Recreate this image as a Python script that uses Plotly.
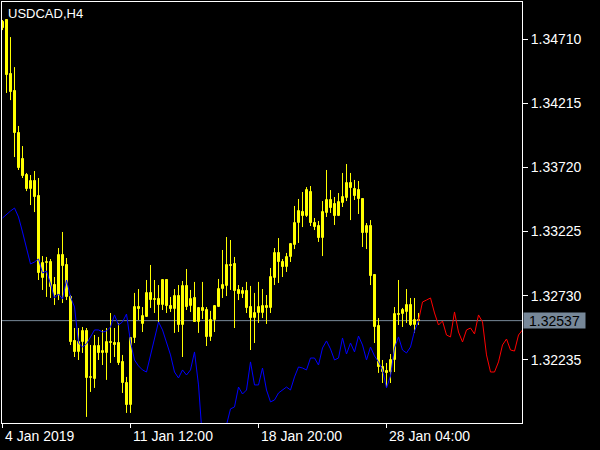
import plotly.graph_objects as go

# ---- data (USDCAD H4 bars) ----
open_ = [1.34845, 1.34860, 1.34442, 1.34311, 1.33987, 1.33786, 1.33662, 1.33554, 1.33616, 1.33500,
         1.32866, 1.32982, 1.32990, 1.32812, 1.32735, 1.33044, 1.32967, 1.32720, 1.32380, 1.32295,
         1.32372, 1.32457, 1.32094, 1.32086, 1.32341, 1.32287, 1.32287, 1.32372, 1.32364, 1.32364,
         1.32218, 1.32055, 1.31885, 1.32403, 1.32642, 1.32511, 1.32565, 1.32751, 1.32696, 1.32704,
         1.32658, 1.32851, 1.32650, 1.32627, 1.32727, 1.32503, 1.32805, 1.32650, 1.32712, 1.32527,
         1.32635, 1.32619, 1.32411, 1.32542, 1.32642, 1.32781, 1.32805, 1.32967, 1.32975, 1.32774,
         1.32743, 1.32766, 1.32642, 1.32557, 1.32596, 1.32596, 1.32650, 1.32635, 1.32866, 1.33060,
         1.32990, 1.32951, 1.33029, 1.33121, 1.33291, 1.33376, 1.33345, 1.33531, 1.33291, 1.33268,
         1.33175, 1.33369, 1.33469, 1.33438, 1.33345, 1.33446, 1.33484, 1.33600, 1.33554, 1.33546,
         1.33477, 1.33214, 1.33268, 1.32890, 1.32496, 1.32179, 1.32148, 1.32140, 1.32233, 1.32588,
         1.32588, 1.32604, 1.32658, 1.32503, 1.32542]
high = [1.34860, 1.34867, 1.34728, 1.34496, 1.34041, 1.33886, 1.33678, 1.33662, 1.33693, 1.33639,
        1.33036, 1.33029, 1.33013, 1.32874, 1.33098, 1.33222, 1.33021, 1.32735, 1.32480, 1.32480,
        1.32488, 1.32480, 1.32349, 1.32426, 1.32411, 1.32465, 1.32480, 1.32596, 1.32480, 1.32519,
        1.32272, 1.32102, 1.32411, 1.32751, 1.32781, 1.32642, 1.32851, 1.32967, 1.32851, 1.32812,
        1.32851, 1.32851, 1.32720, 1.32781, 1.32812, 1.32843, 1.32936, 1.32774, 1.32836, 1.32642,
        1.32836, 1.32642, 1.32612, 1.32650, 1.32859, 1.33083, 1.33183, 1.33160, 1.33029, 1.32812,
        1.32797, 1.32836, 1.32805, 1.32751, 1.32836, 1.32781, 1.32735, 1.32944, 1.33098, 1.33175,
        1.33013, 1.33060, 1.33137, 1.33423, 1.33477, 1.33531, 1.33569, 1.33577, 1.33330, 1.33307,
        1.33461, 1.33701, 1.33546, 1.33492, 1.33523, 1.33678, 1.33747, 1.33678, 1.33624, 1.33616,
        1.33477, 1.33291, 1.33314, 1.32897, 1.32557, 1.32233, 1.32210, 1.32279, 1.32642, 1.32851,
        1.32635, 1.32781, 1.32712, 1.32712, 1.32596]
low = [1.34782, 1.34296, 1.34241, 1.33801, 1.33701, 1.33639, 1.33538, 1.33430, 1.33376, 1.32851,
       1.32774, 1.32720, 1.32712, 1.32658, 1.32696, 1.32673, 1.32696, 1.32349, 1.32256, 1.32233,
       1.32287, 1.31793, 1.31986, 1.32017, 1.32233, 1.32194, 1.32079, 1.32210, 1.32256, 1.32194,
       1.31978, 1.31824, 1.31824, 1.32364, 1.32542, 1.32449, 1.32565, 1.32635, 1.32596, 1.32519,
       1.32619, 1.32596, 1.32604, 1.32442, 1.32449, 1.32256, 1.32619, 1.32604, 1.32527, 1.32442,
       1.32550, 1.32341, 1.32380, 1.32449, 1.32642, 1.32712, 1.32727, 1.32774, 1.32480, 1.32696,
       1.32712, 1.32596, 1.32310, 1.32364, 1.32519, 1.32557, 1.32511, 1.32596, 1.32812, 1.32828,
       1.32874, 1.32913, 1.32990, 1.33090, 1.33137, 1.33260, 1.33338, 1.33268, 1.33237, 1.33145,
       1.33036, 1.33338, 1.33369, 1.33276, 1.33345, 1.33415, 1.33461, 1.33314, 1.33469, 1.33361,
       1.33106, 1.33090, 1.32812, 1.32364, 1.32133, 1.32055, 1.32024, 1.32055, 1.32140, 1.32503,
       1.32488, 1.32519, 1.32496, 1.32442, 1.32503]
close = [1.34798, 1.34434, 1.34303, 1.33987, 1.33716, 1.33654, 1.33554, 1.33616, 1.33492, 1.32905,
         1.32982, 1.32990, 1.32797, 1.32735, 1.33044, 1.32959, 1.32720, 1.32372, 1.32295, 1.32372,
         1.32457, 1.32094, 1.32102, 1.32341, 1.32287, 1.32302, 1.32372, 1.32364, 1.32349, 1.32210,
         1.32055, 1.31885, 1.32403, 1.32642, 1.32627, 1.32573, 1.32751, 1.32696, 1.32704, 1.32658,
         1.32851, 1.32650, 1.32627, 1.32727, 1.32503, 1.32805, 1.32642, 1.32704, 1.32527, 1.32635,
         1.32612, 1.32411, 1.32542, 1.32650, 1.32781, 1.32812, 1.32967, 1.32959, 1.32766, 1.32743,
         1.32766, 1.32635, 1.32557, 1.32596, 1.32642, 1.32650, 1.32635, 1.32874, 1.33060, 1.32990,
         1.32951, 1.33029, 1.33129, 1.33291, 1.33384, 1.33345, 1.33546, 1.33291, 1.33260, 1.33175,
         1.33376, 1.33469, 1.33407, 1.33345, 1.33454, 1.33492, 1.33600, 1.33562, 1.33500, 1.33477,
         1.33214, 1.33268, 1.32882, 1.32488, 1.32179, 1.32140, 1.32133, 1.32233, 1.32588, 1.32581,
         1.32619, 1.32658, 1.32503, 1.32542, 1.32537]

# overlay line (blue), one value per bar
blue_line = [1.33330, 1.33361, 1.33384, 1.33407, 1.33338, 1.33222, 1.33098, 1.32975, 1.32990, 1.33013,
             1.32905, 1.32920, 1.32820, 1.32712, 1.32743, 1.32704, 1.32851, 1.32720, 1.32642, 1.32364,
             1.32333, 1.32357, 1.32411, 1.32465, 1.32465, 1.32449, 1.32457, 1.32488, 1.32581, 1.32503,
             1.32527, 1.32588, 1.32372, 1.32233, 1.32187, 1.32156, 1.32140, 1.32272, 1.32388, 1.32527,
             1.32465, 1.32364, 1.32272, 1.32140, 1.32094, 1.32156, 1.32117, 1.32156, 1.32295, 1.32040,
             1.31615, 1.31538, 1.31499, 1.31538, 1.31576, 1.31654, 1.31731, 1.31855, 1.31870, 1.32024,
             1.31970, 1.32001, 1.32218, 1.32040, 1.32040, 1.32171, 1.32001, 1.31909, 1.31924, 1.31978,
             1.32001, 1.32024, 1.32001, 1.32102, 1.32179, 1.32171, 1.32156, 1.32248, 1.32248, 1.32194,
             1.32326, 1.32380, 1.32318, 1.32233, 1.32248, 1.32403, 1.32279, 1.32364, 1.32295, 1.32418,
             1.32349, 1.32233, 1.32333, 1.32264, 1.32218, 1.32156, 1.32017, 1.32109, 1.32326, 1.32411,
             1.32310, 1.32287, 1.32333, 1.32457, 1.32534]

# forecast line (red), from the last bar onward
red_start = 104
red_line = [1.32537, 1.32681, 1.32696, 1.32712, 1.32596, 1.32503, 1.32534, 1.32426, 1.32411, 1.32604,
            1.32449, 1.32372, 1.32465, 1.32480, 1.32434, 1.32581, 1.32527, 1.32272, 1.32140, 1.32140,
            1.32218, 1.32349, 1.32395, 1.32310, 1.32302, 1.32426, 1.32465]

x_tick_bars = [0, 32, 64, 96]
x_tick_labels = ["4 Jan 2019", "11 Jan 12:00", "18 Jan 20:00", "28 Jan 04:00"]
price_ticks = [1.34710, 1.34215, 1.33720, 1.33225, 1.32730, 1.32235]
last_price = 1.32537
symbol_label = "USDCAD,H4"

YELLOW = "#FFFF00"
FONT = "Liberation Sans"

n = len(open_)
bars = list(range(n))

# wicks
wx, wy = [], []
for i in bars:
    wx += [i, i, None]
    wy += [low[i], high[i], None]

bull = [i for i in bars if close[i] >= open_[i]]
bear = [i for i in bars if close[i] < open_[i]]

fig = go.Figure()
fig.add_trace(go.Scatter(x=wx, y=wy, mode="lines", line=dict(color=YELLOW, width=1),
                         hoverinfo="skip", showlegend=False))
fig.add_trace(go.Bar(x=bull, y=[close[i] - open_[i] for i in bull], base=[open_[i] for i in bull],
                     width=0.5, marker=dict(color="#000000", line=dict(color=YELLOW, width=1)),
                     showlegend=False))
fig.add_trace(go.Bar(x=bear, y=[open_[i] - close[i] for i in bear], base=[close[i] for i in bear],
                     width=0.5, marker=dict(color="#FFFFFF", line=dict(color=YELLOW, width=1)),
                     showlegend=False))
fig.add_trace(go.Scatter(x=bars, y=blue_line, mode="lines", line=dict(color="#0000FF", width=1),
                         showlegend=False))
fig.add_trace(go.Scatter(x=list(range(red_start, red_start + len(red_line))), y=red_line, mode="lines",
                         line=dict(color="#FF0000", width=1), showlegend=False))

fig.add_shape(type="line", xref="paper", x0=0, x1=1, yref="y", y0=last_price, y1=last_price,
              line=dict(color="#778899", width=1), layer="below")

annotations = [
    dict(text=symbol_label, xref="paper", yref="paper", x=0, y=1, xanchor="left", yanchor="top",
         xshift=4, yshift=-2, showarrow=False, font=dict(family=FONT, size=13, color="white")),
    dict(text=f"{last_price:.5f}", xref="paper", yref="y", x=1, y=last_price, xanchor="left",
         yanchor="middle", xshift=1, showarrow=False, bgcolor="#778899", width=61, height=15,
         borderpad=0, font=dict(family=FONT, size=14, color="black")),
]
for b, t in zip(x_tick_bars, x_tick_labels):
    annotations.append(dict(text=t, xref="x", yref="paper", x=b, y=0, xanchor="left", yanchor="top",
                            yshift=-3, showarrow=False, font=dict(family=FONT, size=14, color="white")))

fig.update_layout(
    width=600, height=450,
    margin=dict(l=2, r=78, t=2, b=27),
    paper_bgcolor="black", plot_bgcolor="black",
    barmode="overlay", bargap=0,
    annotations=annotations,
    xaxis=dict(range=[-0.125, 129.875], showgrid=False, zeroline=False, showline=True, mirror=True,
               linecolor="white", linewidth=1, ticks="outside", tickvals=x_tick_bars,
               ticklen=4, tickcolor="white", showticklabels=False, fixedrange=True),
    yaxis=dict(range=[1.31746, 1.34999], side="right", showgrid=False, zeroline=False,
               showline=True, mirror=True, linecolor="white", linewidth=1, ticks="outside",
               tickvals=price_ticks, ticktext=[f"{v:.5f}" for v in price_ticks], ticklen=5,
               tickcolor="white", tickfont=dict(family=FONT, size=14, color="white"),
               fixedrange=True),
)

fig.write_html("out.html",
               config={"displayModeBar": False},
               post_script="document.body.style.margin='0';document.body.style.padding='0';"
                           "document.body.style.background='black';")
